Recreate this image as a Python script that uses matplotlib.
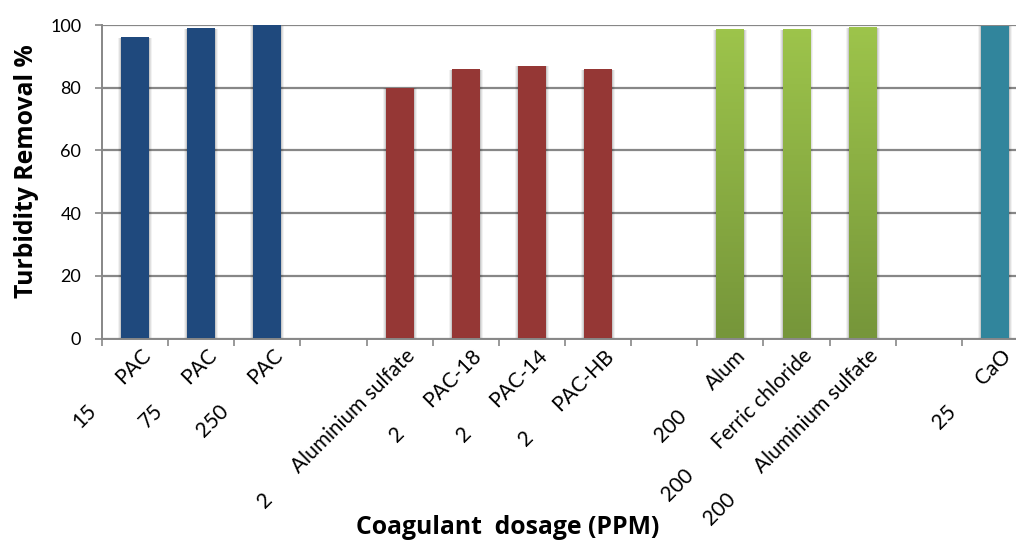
import numpy as np
import matplotlib
matplotlib.use("Agg")
import matplotlib.pyplot as plt
from matplotlib.colors import LinearSegmentedColormap

plt.rcParams['font.family'] = ['Lato', 'DejaVu Sans']

# one slot per category, blank slots separate the groups
names = ["PAC", "PAC", "PAC", "",
         "Aluminium sulfate", "PAC-18", "PAC-14", "PAC-HB", "",
         "Alum", "Ferric chloride", "Aluminium sulfate", "",
         "CaO"]
doses = ["15", "75", "250", "",
         "2", "2", "2", "2", "",
         "200", "200", "200", "",
         "25"]
removal = [96.2, 99.0, 100.0, None,
           80.0, 86.0, 87.0, 86.0, None,
           98.7, 98.7, 99.4, None,
           99.8]
group = ["blue", "blue", "blue", None,
         "red", "red", "red", "red", None,
         "green", "green", "green", None,
         "teal"]

colors = {"blue": "#1F497D", "red": "#953735", "teal": "#31859C"}
green_top, green_bot = "#9DC44B", "#76963A"
grid_c = "#878787"

fig = plt.figure(figsize=(10.16, 5.43), dpi=100)
ax = fig.add_axes([102 / 1016, 1 - 338.5 / 543, 926 / 1016, 313.5 / 543])

n = len(names)
width = 0.42
for i, (v, g) in enumerate(zip(removal, group)):
    if v is None:
        continue
    x = i + 0.5
    # soft shadow around the bar
    for k, a in zip([0.09, 0.06, 0.03], [0.05, 0.07, 0.10]):
        ax.bar(x, v + 0.2, width=width + k, bottom=-0.4, color="black",
               alpha=a, lw=0, zorder=2)
    if g == "green":
        bar = ax.bar(x, v, width=width, color=green_top, lw=0, zorder=3)[0]
        cmap = LinearSegmentedColormap.from_list("g", [green_bot, green_top])
        grad = np.linspace(1, 0, 100).reshape(-1, 1)
        im = ax.imshow(grad, cmap=cmap, aspect="auto", zorder=3.5,
                       extent=[x - width / 2, x + width / 2, 0, v])
        im.set_clip_path(bar)
    else:
        ax.bar(x, v, width=width, color=colors[g], lw=0, zorder=3)

ax.set_xlim(0, n)
ax.set_ylim(0, 100)
ax.set_yticks(range(0, 101, 20))
ax.set_xticks(range(0, n + 1))
ax.set_xticklabels([])
ax.yaxis.grid(True, color=grid_c, lw=1.6, zorder=1)
ax.set_axisbelow(True)
for s in ["top", "right"]:
    ax.spines[s].set_visible(False)
for s in ["left", "bottom"]:
    ax.spines[s].set_color(grid_c)
    ax.spines[s].set_linewidth(1.4)
    ax.spines[s].set_zorder(4)
ax.tick_params(axis="y", length=5, width=1.2, color=grid_c, pad=10,
               labelsize=13)
ax.tick_params(axis="x", length=5, width=1.2, color=grid_c)

# two-level category labels: name, then dose further down the same line
fs = 15
gap = 28
for i, (nm, d) in enumerate(zip(names, doses)):
    if not nm:
        continue
    t = ax.annotate(nm, xy=(i + 0.5, 0), xycoords="data",
                    xytext=(4, -5), textcoords="offset points",
                    rotation=45, rotation_mode="anchor", ha="right", va="top",
                    fontsize=fs)
    h = 1.2 * fs
    ax.annotate(d, xy=(0, 0), xycoords=t,
                xytext=(-0.707 * gap + 1.5, 0.707 * (h - gap) - 2),
                textcoords="offset points",
                rotation=45, rotation_mode="anchor", ha="right", va="top",
                fontsize=fs)

title_font = dict(family=["Open Sans", "DejaVu Sans"], fontweight="bold",
                  fontsize=17.8)
fig.text(27 / 1016, 1 - 171 / 543, "Turbidity Removal %", rotation=90,
         ha="center", va="center", **title_font)
fig.text(508 / 1016, 1 - 527 / 543, "Coagulant  dosage (PPM)",
         ha="center", va="center", **title_font)

fig.savefig("out.png", dpi=100)
